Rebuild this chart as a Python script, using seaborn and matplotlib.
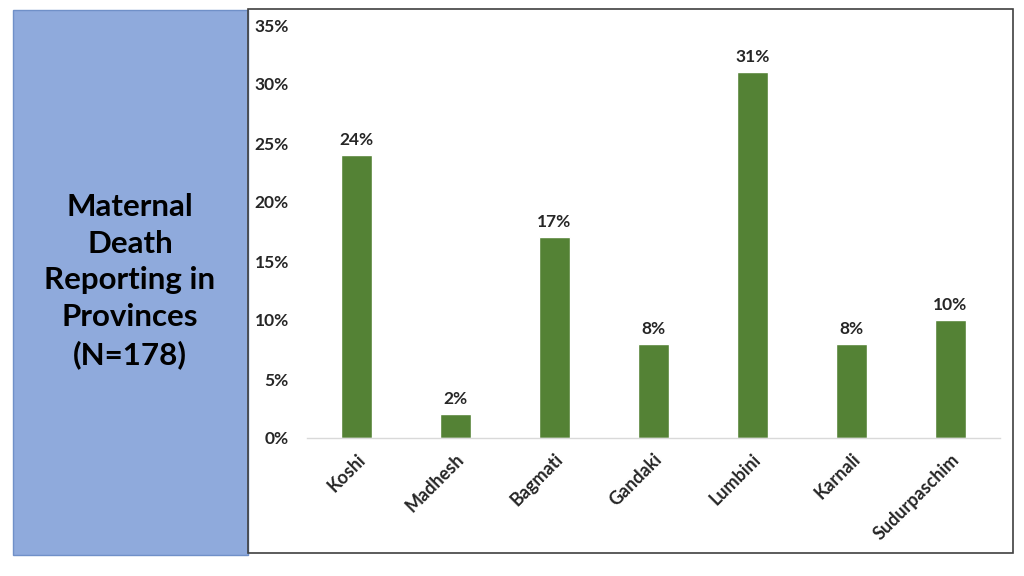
import matplotlib
matplotlib.use("Agg")
import matplotlib.pyplot as plt
import matplotlib.patches as mpatches
import seaborn as sns
import pandas as pd

provinces = ["Koshi", "Madhesh", "Bagmati", "Gandaki", "Lumbini", "Karnali", "Sudurpaschim"]
share = [24, 2, 17, 8, 31, 8, 10]
y_ticks = [0, 5, 10, 15, 20, 25, 30, 35]
panel_text = "Maternal\nDeath\nReporting in\nProvinces\n(N=178)"

sns.set_style("white")
plt.rcParams["font.family"] = ["Lato", "DejaVu Sans"]

df = pd.DataFrame({"province": provinces, "share": share})

fig = plt.figure(figsize=(10.24, 5.76), dpi=100)

# left blue panel and chart border
fig.patches.append(mpatches.Rectangle((13 / 1024, 1 - 555 / 576), 235 / 1024, 545 / 576,
                                      transform=fig.transFigure, facecolor="#8FAADC",
                                      edgecolor="#7090C8", linewidth=1, zorder=-1))
fig.patches.append(mpatches.Rectangle((248 / 1024, 1 - 553 / 576), 765 / 1024, 544 / 576,
                                      transform=fig.transFigure, facecolor="none",
                                      edgecolor="#404040", linewidth=1.2, zorder=-1))
fig.text(130 / 1024, 1 - 281 / 576, panel_text, ha="center", va="center",
         fontsize=22.5, fontweight="bold", color="black", linespacing=1.37)

ax = fig.add_axes([307 / 1024, 1 - 438 / 576, 693 / 1024, 413 / 576])
ax.patch.set_alpha(0)
sns.barplot(data=df, x="province", y="share", color="#548235", width=0.31,
            saturation=1, ax=ax)

for p, v in zip(ax.patches, share):
    ax.text(p.get_x() + p.get_width() / 2, v + 0.6, f"{v}%", ha="center", va="bottom",
            fontsize=12.5, fontweight="bold")

ax.set_ylim(0, 35)
ax.set_xlim(-0.5, 6.5)
ax.set_yticks(y_ticks)
ax.set_yticklabels([f"{t}%" for t in y_ticks], fontsize=12.5, fontweight="bold")
ax.set_xticks(range(len(provinces)))
ax.set_xticklabels(provinces, rotation=45, ha="right", rotation_mode="anchor",
                   fontsize=13, fontweight="bold")
ax.tick_params(axis="x", length=0, pad=9)
ax.tick_params(axis="y", length=0, pad=13)
ax.set_xlabel("")
ax.set_ylabel("")
for s in ["top", "right", "left"]:
    ax.spines[s].set_visible(False)
ax.spines["bottom"].set_color("#D9D9D9")
ax.spines["bottom"].set_linewidth(1)

fig.savefig("out.png", dpi=100)
